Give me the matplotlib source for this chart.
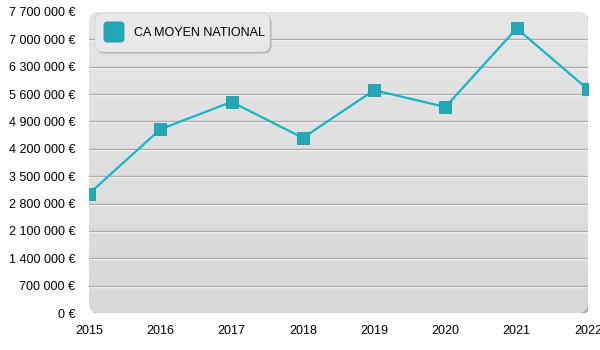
import matplotlib.pyplot as plt
import numpy as np
from matplotlib.patches import FancyBboxPatch
from matplotlib.colors import LinearSegmentedColormap
from matplotlib.ticker import FuncFormatter
from matplotlib.transforms import IdentityTransform, offset_copy

years = [2015, 2016, 2017, 2018, 2019, 2020, 2021, 2022]
ca_moyen = [3050000, 4700000, 5400000, 4480000, 5700000, 5270000, 7280000, 5720000]
y_ticks = list(range(0, 7700001, 700000))
series_label = "CA MOYEN NATIONAL"

LINE = "#13b6c8"
MARK = "#22a8b6"


def euro(v, pos):
    return f"{int(v):,} €".replace(",", " ")


def main():
    plt.rcParams["font.family"] = ["Liberation Sans", "DejaVu Sans"]
    fig = plt.figure(figsize=(6, 3.5), dpi=100)
    ax = fig.add_axes([89 / 600, 37 / 350, 499 / 600, 301 / 350])
    ax.patch.set_visible(False)
    for s in ax.spines.values():
        s.set_visible(False)

    # plot area: shadow + rounded box + gradient
    w, h = 499, 301
    r = 10
    box = dict(boxstyle=f"round,pad=0,rounding_size={r / w}", mutation_aspect=w / h)
    shadow = FancyBboxPatch((0, 0), 1, 1, transform=offset_copy(ax.transAxes, fig=fig, x=1.5, y=-1.5, units="dots"),
                            facecolor="#a4a4a4", edgecolor="none", zorder=0, **box)
    ax.add_patch(shadow)
    area = FancyBboxPatch((0, 0), 1, 1, transform=ax.transAxes, facecolor="#e0e0e0",
                          edgecolor="none", zorder=0.1, **box)
    ax.add_patch(area)
    grad = np.linspace(0, 1, 256).reshape(-1, 1)
    cmap = LinearSegmentedColormap.from_list("bg", ["#e6e6e6", "#d8d8d8"])
    im = ax.imshow(grad, extent=(0, 1, 0, 1), transform=ax.transAxes, aspect="auto",
                   cmap=cmap, zorder=0.2, origin="upper")
    im.set_clip_path(area)

    # grid lines with white highlight
    below = offset_copy(ax.transData, fig=fig, y=-1, units="dots")
    for t in y_ticks[1:-1]:
        ax.plot([2015, 2022], [t, t], color="#ffffff", lw=1, zorder=0.3, transform=below)
        ax.plot([2015, 2022], [t, t], color="#ababab", lw=1, zorder=0.4)

    ax.plot(years, ca_moyen, color=LINE, lw=1.6, zorder=2)
    ax.plot(years, ca_moyen, ls="none", marker="s", ms=8.5, mfc=MARK, mec="#1b98a6",
            mew=0.6, zorder=3)

    ax.set_xlim(2015, 2022)
    ax.set_ylim(0, 7700000)
    ax.set_xticks(years)
    ax.set_yticks(y_ticks)
    ax.yaxis.set_major_formatter(FuncFormatter(euro))
    ax.tick_params(length=0, labelsize=9, colors="#000000")
    ax.tick_params(axis="y", pad=10)
    ax.tick_params(axis="x", pad=9)

    # legend box drawn in pixel coordinates
    px = IdentityTransform()
    lb = dict(boxstyle="round,pad=0,rounding_size=8")
    fig.add_artist(FancyBboxPatch((96.5, 350 - 53.5), 175, 39, transform=px,
                                  facecolor="#b0b0b0", edgecolor="none", zorder=5, **lb))
    fig.add_artist(FancyBboxPatch((95, 350 - 52), 175, 39, transform=px,
                                  facecolor="#e9e9e9", edgecolor="#d0d0d0", lw=0.5,
                                  zorder=6, **lb))
    fig.add_artist(FancyBboxPatch((104, 350 - 42), 20, 20, transform=px,
                                  boxstyle="round,pad=0,rounding_size=3",
                                  facecolor=MARK, edgecolor="#1b98a6", lw=0.6, zorder=7))
    fig.text(134 / 600, 1 - 32.5 / 350, series_label, fontsize=9, color="#000000",
             va="center", ha="left", zorder=8)

    fig.savefig("out.png", dpi=100)


if __name__ == "__main__":
    main()
